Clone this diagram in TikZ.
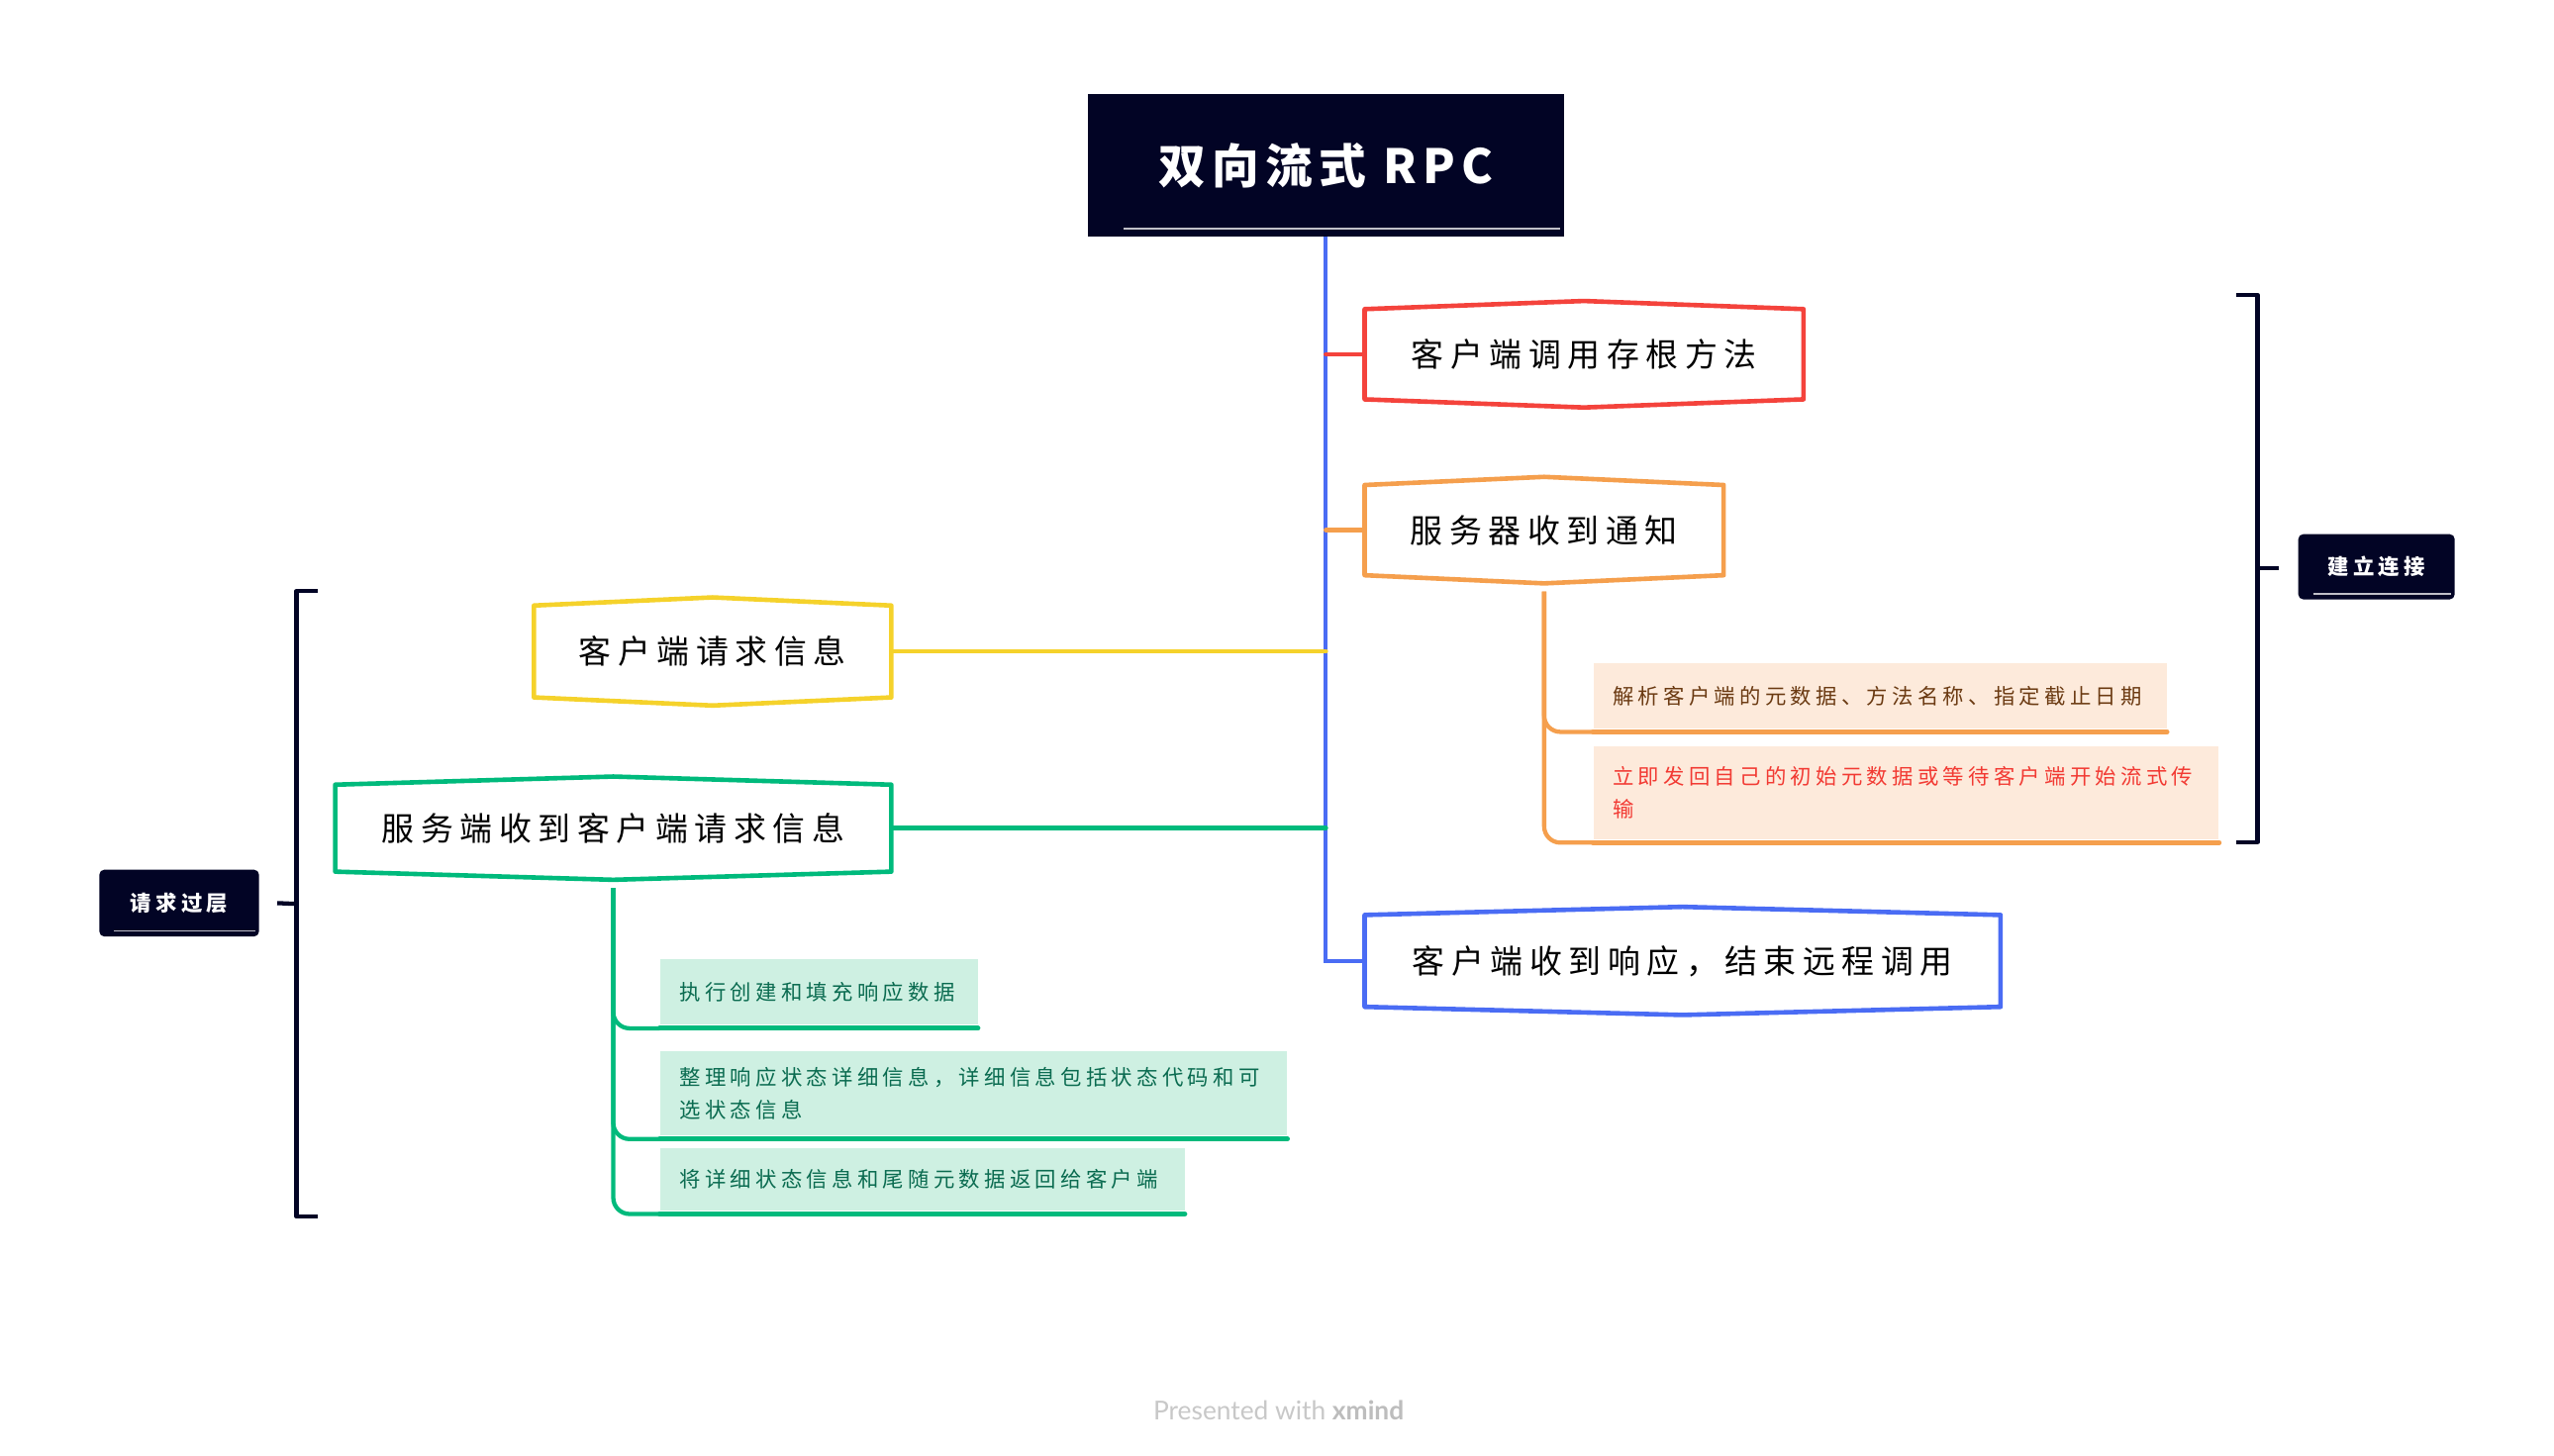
\documentclass[tikz,border=0pt]{standalone}
\usepackage{fontspec}
\newfontfamily\cjk[LetterSpace=20]{Noto Sans CJK SC}
\newfontfamily\cjkroot[LetterSpace=13]{Noto Sans CJK SC}
\newfontfamily\footfont{Lato}
\usetikzlibrary{calc}
\definecolor{navy}{HTML}{020425}
\definecolor{redc}{HTML}{F4433C}
\definecolor{orangec}{HTML}{F59F4D}
\definecolor{yellowc}{HTML}{F5D22B}
\definecolor{greenc}{HTML}{00BA7C}
\definecolor{bluec}{HTML}{4A6CF4}
\definecolor{peach}{HTML}{FDEADB}
\definecolor{mint}{HTML}{CEF0E2}
\definecolor{browntext}{HTML}{6B3A12}
\definecolor{redtext}{HTML}{F23A33}
\definecolor{greentext}{HTML}{0A6B50}
\definecolor{footgray}{HTML}{C8C8C8}
\definecolor{footdark}{HTML}{BDBDBD}
\newcommand\skbox[2]{\draw[#2, line width=2.8pt, line join=round, line cap=round]
  (#1.north west) -- ($(#1.north)+(0,-5)$) -- (#1.north east) -- (#1.south east)
  -- ($(#1.south)+(0,5)$) -- (#1.south west) -- cycle;}
\newcommand\underl[2]{\draw[#2, line width=3pt, line cap=round]
  ($(#1.south west)+(0,2)$) -- ($(#1.south east)+(0,2)$);}
\tikzset{
  every node/.style={inner sep=0pt},
  rootbox/.style={fill=navy, text=white, font=\cjkroot\bfseries\fontsize{29}{32}\selectfont},
  lvlone/.style={font=\cjk\fontsize{20}{24}\selectfont, text=black},
  subnode/.style={anchor=north west, align=left, inner xsep=12pt,
    font=\cjk\fontsize{13}{20}\selectfont},
  peachnode/.style={subnode, fill=peach},
  mintnode/.style={subnode, fill=mint, text=greentext},
  darknode/.style={fill=navy, text=white, rounded corners=3pt,
    font=\cjk\bfseries\fontsize{13}{16}\selectfont},
  conn/.style={line width=2.8pt, line cap=round},
  brack/.style={navy, line width=2.6pt, line join=round},
}
\begin{document}
\begin{tikzpicture}[x=1pt,y=-1pt]
\useasboundingbox[fill=white] (0,0) rectangle (1568,893.4);

% root
\node[rootbox, minimum width=292pt, minimum height=87pt] (root) at (814,101.5) {双向流式 RPC};
\draw[white!75!navy, line width=1.4pt] (690,140.5) -- (958,140.5);

% level one topics
\node[lvlone, minimum width=269pt, minimum height=55pt] (stub) at (972.5,217.5) {客户端调用存根方法};
\node[lvlone, minimum width=220pt, minimum height=55pt] (notify) at (948,325.5) {服务器收到通知};
\node[lvlone, minimum width=390pt, minimum height=56pt] (resp) at (1033,590) {客户端收到响应，结束远程调用};
\node[lvlone, minimum width=219pt, minimum height=56pt] (creq) at (437.5,400) {客户端请求信息};
\node[lvlone, minimum width=341pt, minimum height=53pt] (sreq) at (376.5,508.5) {服务端收到客户端请求信息};

% trunk and connectors
\draw[bluec, line width=2.4pt] (root.south) |- (resp.west);
\draw[conn, redc] (root.south |- stub.west) -- (stub.west);
\draw[conn, orangec] (root.south |- notify.west) -- (notify.west);
\draw[conn, yellowc] (creq.east) -- (root.south |- creq.east);
\draw[conn, greenc] (sreq.east) -- (root.south |- sreq.east);

\skbox{stub}{redc}
\skbox{notify}{orangec}
\skbox{resp}{bluec}
\skbox{creq}{yellowc}
\skbox{sreq}{greenc}

% orange subtopics
\node[peachnode, text=browntext, text width=328pt, minimum height=40pt] (s1) at (978,407)
  {解析客户端的元数据、方法名称、指定截止日期};
\node[peachnode, text=redtext, text width=360pt, minimum height=57pt] (s2) at (978,458)
  {立即发回自己的初始元数据或等待客户端开始流式传\\输};
\underl{s1}{orangec}
\underl{s2}{orangec}
\draw[orangec, line width=2.6pt, rounded corners=10pt] ($(notify.south)+(0,10)$) |- ($(s1.south west)+(0,2)$);
\draw[orangec, line width=2.6pt, rounded corners=10pt] ($(notify.south)+(0,10)$) |- ($(s2.south west)+(0,2)$);

% green subtopics
\node[mintnode, text width=171pt, minimum height=40pt] (g1) at (405,589)
  {执行创建和填充响应数据};
\node[mintnode, text width=361pt, minimum height=52pt] (g2) at (405,645)
  {整理响应状态详细信息，详细信息包括状态代码和可\\选状态信息};
\node[mintnode, text width=298pt, minimum height=38pt] (g3) at (405,705)
  {将详细状态信息和尾随元数据返回给客户端};
\underl{g1}{greenc}
\underl{g2}{greenc}
\underl{g3}{greenc}
\draw[greenc, line width=2.6pt, rounded corners=10pt] ($(sreq.south)+(0,10)$) |- ($(g1.south west)+(0,2)$);
\draw[greenc, line width=2.6pt, rounded corners=10pt] ($(sreq.south)+(0,10)$) |- ($(g2.south west)+(0,2)$);
\draw[greenc, line width=2.6pt, rounded corners=10pt] ($(sreq.south)+(0,10)$) |- ($(g3.south west)+(0,2)$);

% right bracket
\node[darknode, minimum width=96pt, minimum height=40pt] (estab) at (1459,348) {建立连接};
\draw[white!75!navy, line width=1pt] (1420,364.5) -- (1505,364.5);
\coordinate (rbt) at (1386,181);
\coordinate (rbb) at (1386,517);
\coordinate (rbm) at (1386,349);
\draw[brack] ($(rbt)+(-13,0)$) -- (rbt) -- (rbb) -- ($(rbb)+(-13,0)$);
\draw[brack] (rbm) -- ($(estab.west)+(-12,1)$);

% left bracket
\node[darknode, minimum width=98pt, minimum height=41pt] (reqproc) at (110,554.5) {请求过层};
\draw[white!75!navy, line width=1pt] (70,571.5) -- (157,571.5);
\coordinate (lbt) at (182,363);
\coordinate (lbb) at (182,747);
\coordinate (lbm) at (182,555);
\draw[brack] ($(lbt)+(13,0)$) -- (lbt) -- (lbb) -- ($(lbb)+(13,0)$);
\draw[brack] (lbm) -- ($(reqproc.east)+(11,0)$);

% footer
\node[font=\footfont\fontsize{16}{18}\selectfont, text=footgray] (foot) at (785,866)
  {Presented with \textcolor{footdark}{\bfseries xmind}};
\end{tikzpicture}
\end{document}
